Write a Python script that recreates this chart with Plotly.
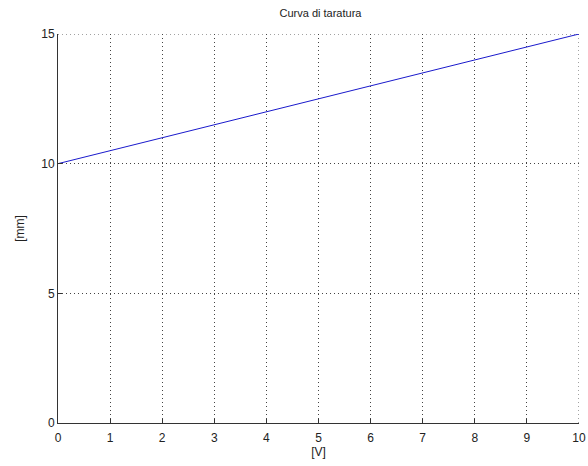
import plotly.graph_objects as go

volts = [0, 1, 2, 3, 4, 5, 6, 7, 8, 9, 10]
mm = [10.0, 10.5, 11.0, 11.5, 12.0, 12.5, 13.0, 13.5, 14.0, 14.5, 15.0]
x_ticks = [0, 1, 2, 3, 4, 5, 6, 7, 8, 9, 10]
y_ticks = [0, 5, 10, 15]

GRID = "#444444"

fig = go.Figure()
fig.add_trace(go.Scatter(x=volts, y=mm, mode="lines",
                         line=dict(color="#1a1acc", width=1), showlegend=False))

axis_common = dict(
    showgrid=True, gridcolor=GRID, griddash="1px,3px", gridwidth=1,
    showline=True, linecolor="#333333", linewidth=1,
    ticks="inside", ticklen=4, tickcolor="#333333", tickwidth=1,
    zeroline=False, mirror=False, ticklabeloverflow="allow", automargin=False,
    tickfont=dict(family="Liberation Sans, Arial", size=12, color="#222222"),
)

# grid lines at the far ends of the axes (plotly skips these)
fig.add_shape(type="line", xref="paper", yref="y", x0=0, x1=1, y0=max(y_ticks), y1=max(y_ticks),
              line=dict(color=GRID, width=1, dash="1px,3px"), layer="below")
fig.add_shape(type="line", xref="x", yref="paper", x0=max(x_ticks), x1=max(x_ticks), y0=0, y1=1,
              line=dict(color=GRID, width=1, dash="1px,3px"), layer="below")

fig.update_layout(
    width=588, height=466,
    margin=dict(l=58, r=9, t=34, b=43, autoexpand=False),
    paper_bgcolor="white", plot_bgcolor="white",
    title=dict(text="Curva di taratura", x=0.545, xanchor="center", y=0.972, yanchor="middle",
               font=dict(family="Liberation Sans, Arial", size=11, color="#222222")),
    xaxis=dict(range=[0, 10], tickvals=x_ticks, ticktext=[str(v) for v in x_ticks],
               ticklabelstandoff=4,
               title=dict(text="[V]", standoff=0,
                          font=dict(family="Liberation Sans, Arial", size=12, color="#222222")),
               **axis_common),
    yaxis=dict(range=[0, 15], tickvals=y_ticks, ticktext=[str(v) for v in y_ticks],
               title=dict(text="[mm]", standoff=14,
                          font=dict(family="Liberation Sans, Arial", size=12, color="#222222")),
               **axis_common),
)

fig.write_html("out.html")
